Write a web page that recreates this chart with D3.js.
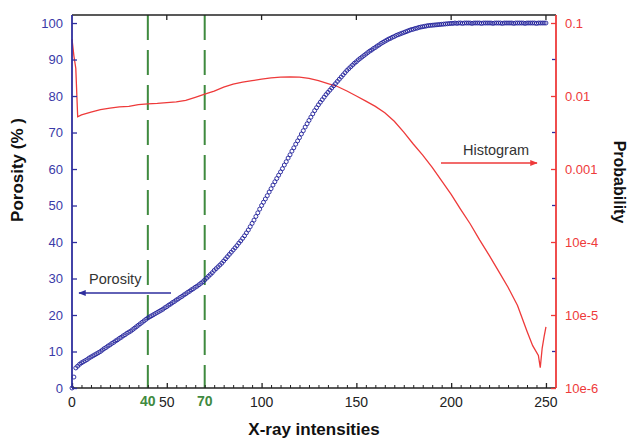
<!DOCTYPE html>
<html>
<head>
<meta charset="utf-8">
<script src="https://cdn.jsdelivr.net/npm/d3@7"></script>
<style>
  body { margin: 0; background: #fff; }
  svg { font-family: "Liberation Sans", Arial, sans-serif; }
</style>
</head>
<body>
<svg id="chart" width="630" height="439"></svg>
<script>
// porosity (%) at every intensity 0..250
const porosity = [
  0, 3.0, 5.5, 6.0, 6.5, 6.9, 7.2, 7.5, 7.8, 8.2,
  8.5, 8.8, 9.1, 9.4, 9.7, 10.0, 10.4, 10.8, 11.1, 11.5,
  11.8, 12.2, 12.5, 12.9, 13.2, 13.6, 13.9, 14.3, 14.6, 15.0,
  15.3, 15.6, 16.0, 16.4, 16.8, 17.2, 17.6, 18.0, 18.4, 18.8,
  19.2, 19.5, 19.8, 20.1, 20.4, 20.7, 21.0, 21.3, 21.6, 22.0,
  22.3, 22.7, 23.0, 23.4, 23.7, 24.1, 24.4, 24.8, 25.1, 25.5,
  25.8, 26.2, 26.5, 26.9, 27.2, 27.6, 27.9, 28.3, 28.7, 29.1,
  29.6, 30.1, 30.6, 31.1, 31.6, 32.2, 32.7, 33.2, 33.7, 34.2,
  34.8, 35.4, 36.0, 36.6, 37.2, 37.8, 38.4, 39.0, 39.7, 40.3,
  41.0, 41.7, 42.5, 43.3, 44.2, 45.1, 46.0, 47.0, 48.0, 49.0,
  50.0, 50.9, 51.8, 52.7, 53.7, 54.6, 55.6, 56.5, 57.4, 58.3,
  59.2, 60.1, 61.1, 62.0, 63.0, 63.9, 64.9, 65.8, 66.8, 67.7,
  68.6, 69.6, 70.5, 71.5, 72.4, 73.3, 74.2, 75.1, 76.0, 76.8,
  77.6, 78.3, 79.0, 79.7, 80.4, 81.0, 81.6, 82.2, 82.8, 83.4,
  84.0, 84.6, 85.2, 85.8, 86.4, 87.0, 87.5, 88.0, 88.5, 89.0,
  89.4, 89.9, 90.3, 90.7, 91.1, 91.5, 91.9, 92.3, 92.6, 93.0,
  93.3, 93.7, 94.0, 94.4, 94.7, 95.0, 95.3, 95.6, 95.8, 96.1,
  96.3, 96.6, 96.8, 97.0, 97.2, 97.4, 97.6, 97.8, 98.0, 98.2,
  98.3, 98.5, 98.6, 98.8, 98.9, 99.0, 99.1, 99.2, 99.3, 99.35,
  99.4, 99.45, 99.5, 99.55, 99.6, 99.65, 99.7, 99.75, 99.8, 99.85,
  99.9, 99.9, 100, 99.9, 100, 100, 99.9, 100, 100, 100,
  100, 99.9, 100, 100, 100, 100, 99.9, 100, 100, 100,
  100, 100, 99.9, 100, 100, 100, 100, 99.9, 100, 100,
  100, 100, 100, 99.9, 100, 100, 100, 100, 100, 99.9,
  100, 100, 100, 100, 100, 99.9, 100, 100, 100, 100,
  100
]

// histogram probability
const histX = [0, 1, 2, 3, 5, 10, 15, 20, 25, 30, 35, 40, 45, 50, 55, 60, 65, 70, 75, 80,
  85, 90, 95, 100, 105, 110, 115, 120, 125, 130, 135, 140, 145, 150, 155, 160, 165, 170,
  175, 180, 185, 190, 195, 200, 205, 210, 215, 220, 225, 230, 235, 240, 243, 246, 247,
  248, 249, 250]
const histP = [0.060, 0.0355, 0.024, 0.0052, 0.0055, 0.0060, 0.0065, 0.0068, 0.0071, 0.0072,
  0.0076, 0.0078, 0.0079, 0.0081, 0.0083, 0.0087, 0.0096, 0.0106, 0.0117, 0.0132,
  0.0145, 0.0155, 0.0162, 0.0170, 0.0177, 0.0181, 0.0182, 0.0181, 0.0174, 0.0162,
  0.0148, 0.0135, 0.0117, 0.0100, 0.0085, 0.0072, 0.0059, 0.0045, 0.0032, 0.0022,
  0.00155, 0.00105, 0.00069, 0.00045, 0.00028, 0.000178, 0.000107, 6.6e-5, 4.0e-5, 2.4e-5,
  1.35e-5, 6.0e-6, 3.8e-6, 2.8e-6, 1.9e-6, 3.5e-6, 5.0e-6, 6.9e-6]

const xTicks = [0, 50, 100, 150, 200, 250]
const markers = [40, 70]
const leftTicks = [0, 10, 20, 30, 40, 50, 60, 70, 80, 90, 100]
const rightTicks = [0.1, 0.01, 0.001, 1e-4, 1e-5, 1e-6]
const rightLabels = ['0.1', '0.01', '0.001', '10e-4', '10e-5', '10e-6']

const blue = '#2e2e9e'
const red = '#ee3a3a'
const green = '#3f8a3f'

const plotLeft = 72, plotRight = 556, plotTop = 15, plotBottom = 388

const xScale = d3.scaleLinear([0, 255.3], [plotLeft, plotRight])
const yLeft = d3.scaleLinear([0, 102.2], [plotBottom, plotTop])
const yRight = d3.scaleLog([1e-6, 0.1287], [plotBottom, plotTop])

const svg = d3.select('#chart')

svg.append('defs').selectAll('marker')
  .data([['arrBlue', blue], ['arrRed', red]])
  .join('marker')
  .attr('id', d => d[0])
  .attr('viewBox', '0 0 10 10')
  .attr('refX', 9).attr('refY', 5)
  .attr('markerWidth', 5).attr('markerHeight', 5)
  .attr('orient', 'auto')
  .append('path')
  .attr('d', 'M0,1 L10,5 L0,9 Z')
  .attr('fill', d => d[1])

// green dashed markers
svg.selectAll('.marker-line')
  .data(markers)
  .join('line')
  .attr('x1', d => xScale(d)).attr('x2', d => xScale(d))
  .attr('y1', plotTop).attr('y2', plotBottom)
  .attr('stroke', green)
  .attr('stroke-width', 2)
  .attr('stroke-dasharray', '25,10')

// histogram line
const histLine = d3.line()
  .x((d, i) => xScale(histX[i]))
  .y(d => yRight(d))
svg.append('path')
  .attr('d', histLine(histP))
  .attr('fill', 'none')
  .attr('stroke', red)
  .attr('stroke-width', 1.3)

// porosity circles
svg.append('g')
  .selectAll('circle')
  .data(porosity)
  .join('circle')
  .attr('cx', (d, i) => xScale(i))
  .attr('cy', d => yLeft(d))
  .attr('r', 2)
  .attr('fill', 'none')
  .attr('stroke', '#20209a')
  .attr('stroke-width', 0.9)

// top border
svg.append('line')
  .attr('x1', plotLeft).attr('x2', plotRight).attr('y1', plotTop).attr('y2', plotTop)
  .attr('stroke', '#222').attr('stroke-width', 1.5)
svg.append('g')
  .selectAll('line')
  .data(xTicks.slice(1))
  .join('line')
  .attr('x1', d => xScale(d)).attr('x2', d => xScale(d))
  .attr('y1', plotTop).attr('y2', plotTop + 5)
  .attr('stroke', '#222').attr('stroke-width', 1.3)

// bottom axis
const xAxis = svg.append('g').attr('transform', `translate(0,${plotBottom})`)
xAxis.call(d3.axisBottom(xScale).tickValues(d3.range(0, 251, 5)).tickSize(-3).tickFormat(''))
xAxis.call(g => g.select('.domain').remove())
xAxis.selectAll('.tick line').attr('stroke', '#222')
xAxis.selectAll('.tick line').filter(d => d % 50 === 0).attr('y2', -5).attr('stroke-width', 1.3)
xAxis.append('line')
  .attr('x1', plotLeft).attr('x2', plotRight)
  .attr('stroke', '#222').attr('stroke-width', 1.5)

svg.append('g')
  .selectAll('text')
  .data(xTicks)
  .join('text')
  .attr('x', d => xScale(d))
  .attr('y', 407)
  .attr('text-anchor', 'middle')
  .attr('font-size', 14)
  .attr('fill', '#222')
  .text(d => d)

svg.append('g')
  .selectAll('text')
  .data(markers)
  .join('text')
  .attr('x', d => xScale(d))
  .attr('y', 406)
  .attr('text-anchor', 'middle')
  .attr('font-size', 14)
  .attr('font-weight', 'bold')
  .attr('fill', green)
  .text(d => d)

// left axis
const yAxisL = svg.append('g').attr('transform', `translate(${plotLeft},0)`)
yAxisL.call(d3.axisLeft(yLeft).tickValues(leftTicks).tickSize(-5).tickPadding(9))
yAxisL.select('.domain').remove()
yAxisL.selectAll('.tick line').attr('stroke', blue).attr('stroke-width', 1.3)
yAxisL.selectAll('.tick text')
  .attr('fill', '#3a3aa8')
  .attr('font-size', 13)
  .attr('font-family', '"Liberation Sans", Arial, sans-serif')
yAxisL.append('line')
  .attr('y1', plotTop).attr('y2', plotBottom)
  .attr('stroke', blue).attr('stroke-width', 1.8)

// right axis
const yAxisR = svg.append('g').attr('transform', `translate(${plotRight},0)`)
yAxisR.call(d3.axisRight(yRight).tickValues(rightTicks).tickSize(-5).tickPadding(9)
  .tickFormat((d, i) => rightLabels[i]))
yAxisR.select('.domain').remove()
yAxisR.selectAll('.tick line').attr('stroke', red).attr('stroke-width', 1.3)
yAxisR.selectAll('.tick text')
  .attr('fill', red)
  .attr('font-size', 13)
  .attr('font-family', '"Liberation Sans", Arial, sans-serif')
yAxisR.append('g')
  .selectAll('line')
  .data(rightTicks.slice(1))
  .join('line')
  .attr('x1', -4).attr('x2', 0)
  .attr('y1', d => yRight(d * Math.sqrt(10)))
  .attr('y2', d => yRight(d * Math.sqrt(10)))
  .attr('stroke', blue).attr('stroke-width', 1.3)
yAxisR.append('line')
  .attr('y1', plotTop).attr('y2', plotBottom)
  .attr('stroke', red).attr('stroke-width', 1.8)

// axis titles
svg.append('text')
  .attr('transform', 'translate(23,170) rotate(-90)')
  .attr('text-anchor', 'middle')
  .attr('font-size', 17)
  .attr('font-weight', 'bold')
  .attr('fill', '#111')
  .text('Porosity (% )')

svg.append('text')
  .attr('transform', 'translate(614,182) rotate(90)')
  .attr('text-anchor', 'middle')
  .attr('font-size', 16)
  .attr('font-weight', 'bold')
  .attr('fill', '#111')
  .text('Probability')

svg.append('text')
  .attr('x', 314).attr('y', 435)
  .attr('text-anchor', 'middle')
  .attr('font-size', 17)
  .attr('font-weight', 'bold')
  .attr('fill', '#111')
  .text('X-ray intensities')

// annotations
svg.append('text')
  .attr('x', 89).attr('y', 284)
  .attr('font-size', 14.5)
  .attr('fill', '#333')
  .text('Porosity')
svg.append('line')
  .attr('x1', 171).attr('x2', 79).attr('y1', 293).attr('y2', 293)
  .attr('stroke', blue).attr('stroke-width', 1.5)
  .attr('marker-end', 'url(#arrBlue)')

svg.append('text')
  .attr('x', 463).attr('y', 155)
  .attr('font-size', 14.5)
  .attr('fill', '#333')
  .text('Histogram')
svg.append('line')
  .attr('x1', 441).attr('x2', 537).attr('y1', 163).attr('y2', 163)
  .attr('stroke', red).attr('stroke-width', 1.5)
  .attr('marker-end', 'url(#arrRed)')
</script>
</body>
</html>
